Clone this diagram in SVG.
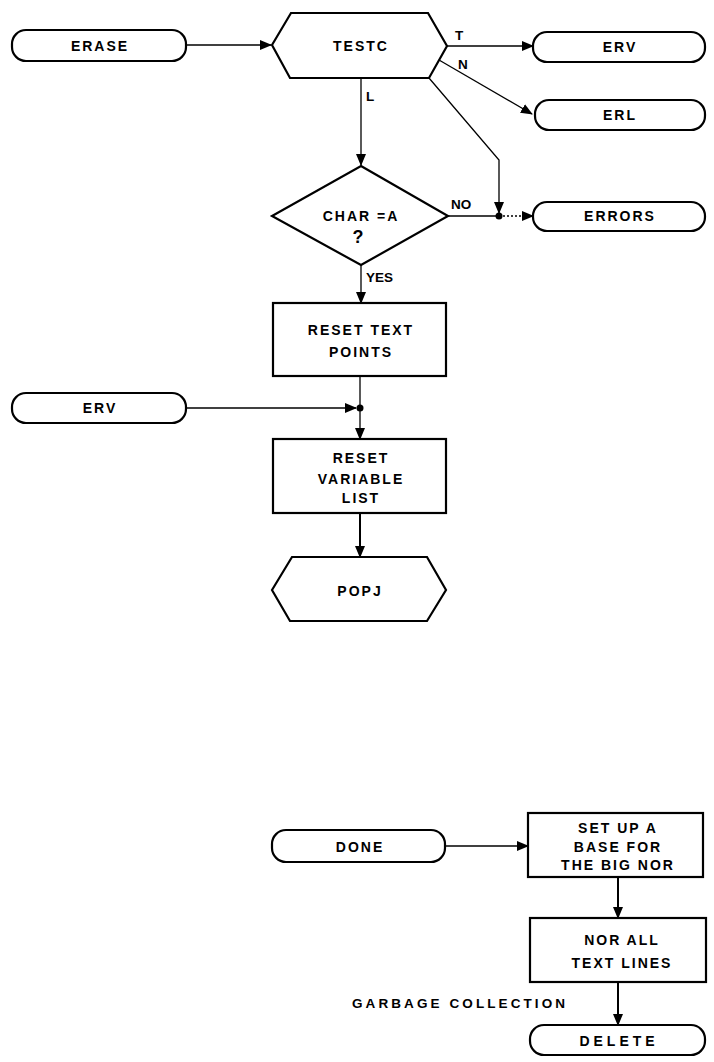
<svg xmlns="http://www.w3.org/2000/svg" width="714" height="1062" viewBox="0 0 714 1062">
<style>
.shape{fill:#fff;stroke:#000;stroke-width:2.2}
.t{font-family:"Liberation Sans",Arial,sans-serif;font-weight:bold;font-size:14px;letter-spacing:2px;text-anchor:middle;fill:#000}
.lbl{font-family:"Liberation Sans",Arial,sans-serif;font-weight:bold;font-size:13.5px;fill:#000}
.c{fill:none;stroke:#000;stroke-width:1.3}
.ct{fill:none;stroke:#000;stroke-width:2}
.dot{fill:#000}
</style>
<defs>
<marker id="ah" markerWidth="12" markerHeight="10" refX="11" refY="5" orient="auto" markerUnits="userSpaceOnUse">
<path d="M0,0 L12,5 L0,10 Z" fill="#000"/>
</marker>
</defs>
<g id="connectors">
<line class="c" x1="186" y1="45" x2="271" y2="45" marker-end="url(#ah)"/>
<line class="c" x1="447" y1="46" x2="533" y2="46" marker-end="url(#ah)"/>
<line class="c" x1="439" y1="60" x2="532" y2="114" marker-end="url(#ah)"/>
<polyline class="c" points="429,78 499,160 499,213" marker-end="url(#ah)"/>
<line class="c" x1="361" y1="78" x2="361" y2="165" marker-end="url(#ah)"/>
<line class="c" x1="448" y1="216" x2="499" y2="216"/>
<line class="c" x1="499" y1="216" x2="533" y2="216" stroke-dasharray="2,2" marker-end="url(#ah)"/>
<circle class="dot" cx="499" cy="216" r="3.5"/>
<line class="c" x1="361" y1="265" x2="361" y2="303" marker-end="url(#ah)"/>
<line class="c" x1="360" y1="376" x2="360" y2="408"/>
<line class="c" x1="186" y1="408" x2="356" y2="408" marker-end="url(#ah)"/>
<circle class="dot" cx="360" cy="408" r="3.5"/>
<line class="c" x1="360" y1="408" x2="360" y2="439" marker-end="url(#ah)"/>
<line class="ct" x1="360" y1="513" x2="360" y2="557" marker-end="url(#ah)"/>
<line class="c" x1="445" y1="846" x2="528" y2="846" marker-end="url(#ah)"/>
<line class="ct" x1="618" y1="877" x2="618" y2="918" marker-end="url(#ah)"/>
<line class="ct" x1="618" y1="982" x2="618" y2="1025" marker-end="url(#ah)"/>
</g>
<g id="erase">
<rect class="shape" x="12" y="30" width="174" height="31" rx="14"/>
<text class="t" x="100" y="51">ERASE</text>
</g>
<g id="testc">
<polygon class="shape" points="272,45 291,13 428,13 447,46 429,78 290,78"/>
<text class="t" x="361" y="51">TESTC</text>
</g>
<g id="label-t"><text class="lbl" x="455" y="40">T</text></g>
<g id="label-n"><text class="lbl" x="458" y="69">N</text></g>
<g id="label-l"><text class="lbl" x="366" y="101">L</text></g>
<g id="erv-top">
<rect class="shape" x="533" y="32" width="172" height="30" rx="14"/>
<text class="t" x="620" y="52">ERV</text>
</g>
<g id="erl">
<rect class="shape" x="535" y="100" width="170" height="30" rx="14"/>
<text class="t" x="620" y="120">ERL</text>
</g>
<g id="char-decision">
<polygon class="shape" points="361,166 448,216 361,265 272,216"/>
<text class="t" x="361" y="221">CHAR =A</text>
<text class="t" x="358" y="243" style="font-size:18px;letter-spacing:0">?</text>
</g>
<g id="label-no"><text class="lbl" x="451" y="209">NO</text></g>
<g id="errors">
<rect class="shape" x="533" y="202" width="172" height="29" rx="14"/>
<text class="t" x="620" y="221">ERRORS</text>
</g>
<g id="label-yes"><text class="lbl" x="366" y="282">YES</text></g>
<g id="reset-text">
<rect class="shape" x="273" y="303" width="173" height="73"/>
<text class="t" x="361" y="335">RESET TEXT</text>
<text class="t" x="361" y="357">POINTS</text>
</g>
<g id="erv-left">
<rect class="shape" x="12" y="393" width="174" height="30" rx="14"/>
<text class="t" x="100" y="413">ERV</text>
</g>
<g id="reset-variable">
<rect class="shape" x="273" y="439" width="173" height="74"/>
<text class="t" x="361" y="463">RESET</text>
<text class="t" x="361" y="484">VARIABLE</text>
<text class="t" x="361" y="503">LIST</text>
</g>
<g id="popj">
<polygon class="shape" points="272,590 292,557 427,557 446,590 427,621 290,621"/>
<text class="t" x="360" y="596">POPJ</text>
</g>
<g id="done">
<rect class="shape" x="272" y="830" width="173" height="32" rx="14"/>
<text class="t" x="360" y="852">DONE</text>
</g>
<g id="setup-base">
<rect class="shape" x="528" y="813" width="175" height="64"/>
<text class="t" x="618" y="833">SET UP A</text>
<text class="t" x="618" y="852">BASE FOR</text>
<text class="t" x="618" y="870">THE BIG NOR</text>
</g>
<g id="nor-all">
<rect class="shape" x="530" y="918" width="176" height="64"/>
<text class="t" x="622" y="945">NOR ALL</text>
<text class="t" x="622" y="968">TEXT LINES</text>
</g>
<g id="garbage-label"><text class="lbl" x="352" y="1008" textLength="213" lengthAdjust="spacing">GARBAGE COLLECTION</text></g>
<g id="delete">
<rect class="shape" x="530" y="1025" width="175" height="30" rx="14"/>
<text class="t" x="619" y="1046" style="letter-spacing:4px">DELETE</text>
</g>
</svg>
